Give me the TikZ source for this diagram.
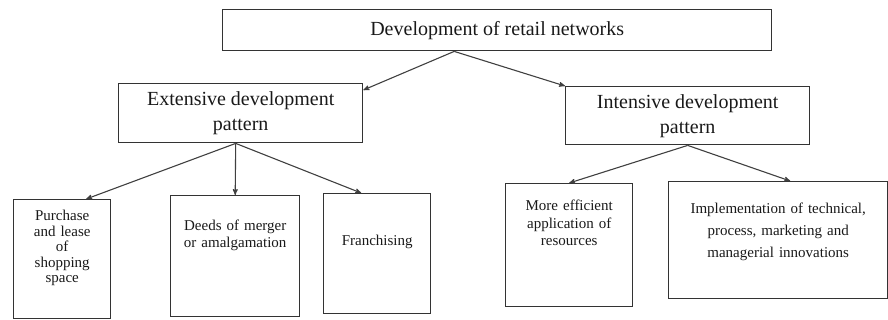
\documentclass[tikz,border=0pt]{standalone}
\usepackage{fontspec}
\setmainfont{Liberation Serif}
\usetikzlibrary{calc}
\usetikzlibrary{arrows}

\begin{document}
\begin{tikzpicture}[x=1pt,y=-1pt,
  every node/.style={draw=black!80,line width=1.4pt,anchor=north west,
    inner sep=0pt,text=black!90},
  big/.style={font=\fontsize{20}{25}\selectfont,align=center},
  leaf/.style={font=\fontsize{15}{17}\selectfont,align=center},
  link/.style={->,>=stealth',line width=1.1pt,draw=black!75}]
  \useasboundingbox (0,0) rectangle (888,320);
  % upper levels
  \node[big,minimum width=549pt,minimum height=41pt] (top) at (222,9)
    {Development of retail networks};
  \node[big,minimum width=244pt,minimum height=59pt] (ext) at (118,83)
    {Extensive development\\pattern};
  \node[big,minimum width=244pt,minimum height=58pt] (int) at (565,86)
    {Intensive development\\pattern};
  % leaves
  \node[leaf,font=\fontsize{15}{15.5}\selectfont,text width=97pt,
    text height=21pt,text depth=98pt] (purchase) at (13,199)
    {Purchase\\and lease\\of\\shopping\\space};
  \node[leaf,text width=129pt,text height=35pt,text depth=86pt] (deeds) at (170,195)
    {Deeds of merger\\or amalgamation};
  \node[leaf,text width=107pt,text height=52pt,text depth=68pt] (franch) at (323,193)
    {Franchising};
  \node[leaf,font=\fontsize{15}{17.5}\selectfont,text width=127pt,
    text height=27pt,text depth=96pt] (effic) at (505,183)
    {More efficient\\application of\\resources};
  \node[leaf,font=\fontsize{15}{22}\selectfont,text width=219pt,
    text height=32pt,text depth=85pt] (innov) at (668,181)
    {Implementation of technical,\\process, marketing and\\managerial innovations};
  % connectors
  \coordinate (topfork) at ([xshift=-43pt]top.south);
  \coordinate (extfork) at ([xshift=-5pt]ext.south);
  \draw[link] (topfork) -- ([yshift=-7pt]ext.north east);
  \draw[link] (topfork) -- (int.north west);
  \draw[link] (extfork) -- ([xshift=24pt]purchase.north);
  \draw[link] (extfork) -- (deeds.north);
  \draw[link] (extfork) -- ([xshift=-16pt]franch.north);
  \draw[link] (int.south) -- (effic.north);
  \draw[link] (int.south) -- ([xshift=12pt]innov.north);
\end{tikzpicture}
\end{document}
